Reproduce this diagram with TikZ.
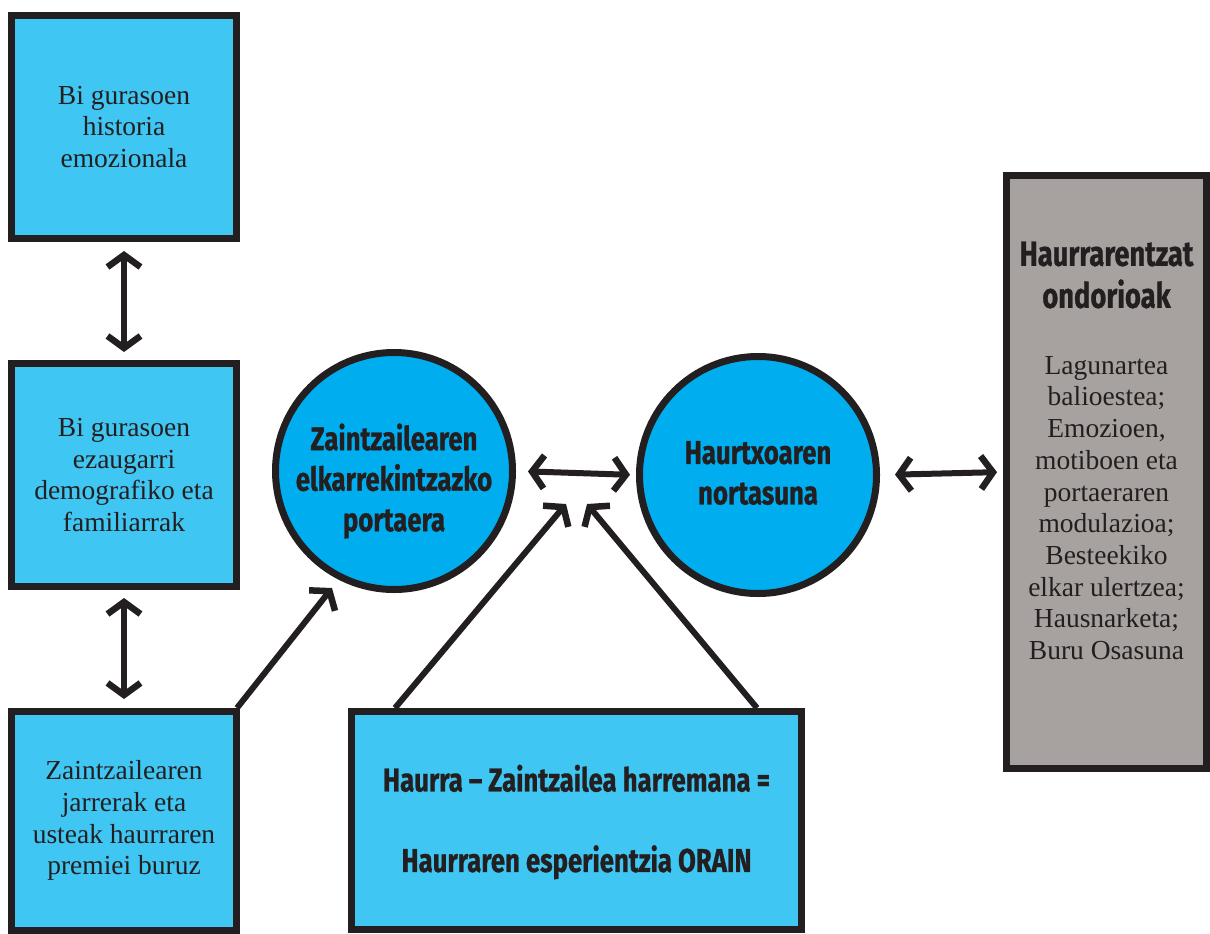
\documentclass[tikz,border=0pt]{standalone}
\usepackage{fontspec}
\setmainfont{Liberation Serif}
\newfontfamily\condbold{Fira Sans}[FakeStretch=0.78,FakeBold=0.8]
\usetikzlibrary{arrows.meta,positioning,calc}
\definecolor{lightblue}{HTML}{40C6F2}
\definecolor{circblue}{HTML}{00AEEF}
\definecolor{greybox}{HTML}{A7A29F}
\definecolor{ink}{HTML}{231F20}
\tikzset{
  mybarb/.tip={Straight Barb[length=12pt,width=33pt,line width=6.5pt]},
  sqbox/.style={draw=ink, line width=7pt, fill=lightblue, minimum width=225pt, align=center,
     font=\fontsize{27.5}{31.7}\selectfont, text=ink, inner sep=0pt},
  circ/.style={circle, draw=ink, line width=7pt, fill=circblue, minimum size=237pt, inner sep=0pt},
  boldtxt/.style={font=\condbold\bfseries\fontsize{33}{40.5}\selectfont, text=ink, align=center, inner sep=0pt},
  dbl/.style={draw=ink, line width=6pt, {mybarb}-{mybarb}},
  sgl/.style={draw=ink, line width=6pt, -{mybarb}},
}
\begin{document}
\begin{tikzpicture}[x=1pt,y=-1pt]
\useasboundingbox (0,0) rectangle (1210,934);
\fill[white] (0,0) rectangle (1210,934);
% left boxes
\node[sqbox, minimum height=223pt] (b1) at (124,127) {Bi gurasoen\\historia\\emozionala};
\node[sqbox, minimum height=223pt] (b2) at (124,475) {Bi gurasoen\\ezaugarri\\demografiko eta\\familiarrak};
\node[sqbox, minimum height=218.5pt] (b3) at (124,820.75) {Zaintzailearen\\jarrerak eta\\usteak haurraren\\premiei buruz};
% circles
\node[circ] (c1) at (394,471) {};
\node[boldtxt] (c1t) at (394,481) {Zaintzailearen\\elkarrekintzazko\\portaera};
\node[circ] (c2) at (758,475) {};
\node[boldtxt] (c2t) at (758,473) {Haurtxoaren\\nortasuna};
% bottom box
\node[sqbox, minimum width=450pt, minimum height=218pt] (bot) at (576.5,820.5) {};
\node[boldtxt] (bott) at (576.5,822) {Haurra – Zaintzailea harremana =\\[40pt]Haurraren esperientzia ORAIN};
% grey box
\node[draw=ink, line width=7pt, fill=greybox, minimum width=200pt, minimum height=593pt, inner sep=0pt] (g) at (1106.5,472) {};
\node[font=\condbold\bfseries\fontsize{35}{42}\selectfont, text=ink, align=center, inner sep=0pt] (gt) at (1106.5,275) {Haurrarentzat\\ondorioak};
\node[font=\fontsize{27.5}{31.7}\selectfont, text=ink, align=center, inner sep=0pt] (gb) at (1106.5,508) {Lagunartea\\balioestea;\\Emozioen,\\motiboen eta\\portaeraren\\modulazioa;\\Besteekiko\\elkar ulertzea;\\Hausnarketa;\\Buru Osasuna};
% arrows
\draw[dbl, shorten <=9pt, shorten >=8pt] (b1.south) -- (b2.north);
\draw[dbl, shorten <=8pt, shorten >=9pt] (b2.south) -- (b3.north);
\draw[dbl, shorten <=12pt, shorten >=6pt] (c1.east) -- (c2.west);
\draw[dbl, shorten <=15pt, shorten >=6pt] (c2.east) -- (g.west);
\coordinate (t1) at (332,588);
\coordinate (t2) at (566,504);
\coordinate (t3) at (587,504);
\draw[sgl] ([xshift=-3pt]b3.north east) -- (t1);
\draw[sgl] ([xshift=47pt]bot.north west) -- (t2);
\draw[sgl] ([xshift=-48pt]bot.north east) -- (t3);
\end{tikzpicture}
\end{document}
